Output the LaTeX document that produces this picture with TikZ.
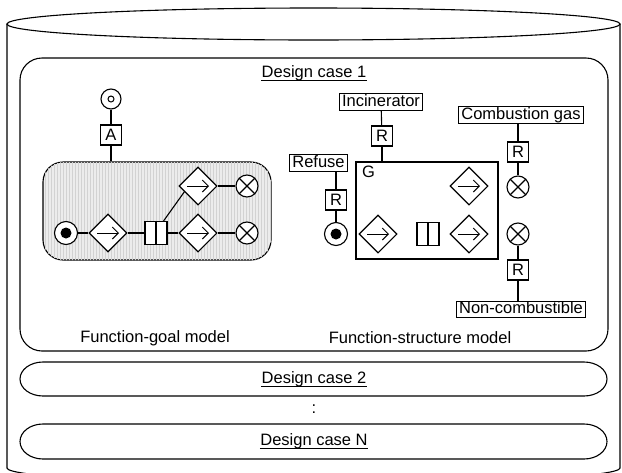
\documentclass[tikz,border=0pt]{standalone}
\usepackage{fontspec}
\setmainfont{Liberation Sans}
\usetikzlibrary{shapes.geometric,arrows.meta,calc,patterns}
\begin{document}
\begin{tikzpicture}[x=1pt,y=-1pt,line width=1.1pt,
  txt/.style={font=\fontsize{16.5}{19}\selectfont},
  lbl/.style={draw,fill=white,txt,inner xsep=2.5pt,inner ysep=0.5pt,text height=12pt,text depth=3.5pt},
  rbox/.style={draw,fill=white,txt,minimum width=21pt,minimum height=20pt,inner sep=0pt},
  fn/.style={diamond,draw,fill=white,minimum width=38pt,minimum height=38pt,inner sep=0pt},
  outc/.style={circle,draw,fill=white,minimum size=22pt,inner sep=0pt,
    path picture={\draw[line width=1.1pt] (path picture bounding box.south west)--(path picture bounding box.north east) (path picture bounding box.north west)--(path picture bounding box.south east);}},
  startc/.style={circle,draw,fill=white,minimum size=23pt,inner sep=0pt,
    path picture={\fill[black] (path picture bounding box.center) circle[radius=5.5pt];}},
  goalc/.style={circle,draw,fill=white,minimum size=20pt,inner sep=0pt,
    path picture={\draw[line width=1pt] (path picture bounding box.center) circle[radius=3pt];}},
  splitbox/.style={draw,fill=white,minimum width=22pt,minimum height=23pt,inner sep=0pt,
    path picture={\draw (path picture bounding box.north)--(path picture bounding box.south);}},
  arr/.style={-{Straight Barb[length=6pt,width=12pt]},line width=1pt},
  ulbl/.style={txt,inner sep=0pt}
]
\useasboundingbox (0,0) rectangle (622,472);
\clip (0,0) rectangle (622,472);

% cylinder
\draw (7,24) -- (7,468) arc[start angle=180,end angle=0,x radius=306.5,y radius=16] -- (620,24);
\draw (313.5,24) ellipse[x radius=306.5,y radius=16];

% design case 1
\node[draw,rounded corners=22pt,minimum width=588pt,minimum height=293pt,inner sep=0pt] (dc1) at (314,204.5) {};
\node[ulbl] (t1) at (314,73) {Design case 1};

% pills
\draw (43,362) -- (584,362) arc[start angle=-90,end angle=90,x radius=23,y radius=17] -- (43,396) arc[start angle=90,end angle=270,x radius=23,y radius=17] -- cycle;
\node[ulbl] (t2) at (314,379) {Design case 2};
\node[txt] (dots) at (314,409) {:};
\draw (43,424) -- (584,424) arc[start angle=-90,end angle=90,x radius=23,y radius=17.5] -- (43,459) arc[start angle=90,end angle=270,x radius=23,y radius=17.5] -- cycle;
\node[ulbl] (tN) at (314,441.5) {Design case N};
\foreach \t in {t1,t2,tN}
  \draw[line width=1.3pt] ($(\t.base west)+(0,3)$) -- ($(\t.base east)+(0,3)$);

% function-goal model
\node[draw,rounded corners=20pt,minimum width=228pt,minimum height=98pt,inner sep=0pt,fill=gray!15,
  postaction={pattern=vertical lines,pattern color=gray!35}] (fg) at (157,211) {};
\node[goalc] (goal) at (111,99) {};
\node[rbox] (A) at (111,135) {A};
\node[startc] (s1) at (66,233) {};
\node[fn] (d1) at (108,233) {};
\node[splitbox] (sp1) at (156,233) {};
\node[fn] (d2) at (198,186) {};
\node[fn] (d3) at (198,233) {};
\node[outc] (x1) at (247,186) {};
\node[outc] (x2) at (247,233) {};
\draw (goal) -- (A);
\draw (A) -- (A |- fg.north);
\draw (s1) -- (d1);
\draw (d1) -- (sp1);
\draw (sp1) -- (d3);
\draw (d2) -- (x1);
\draw (d3) -- (x2);
\draw ([xshift=-4pt]sp1.north east) -- ($(d2.west)!0.3!(d2.south)$);
\node[txt] (fgl) at (155,338) {Function-goal model};

% function-structure model
\node[draw,minimum width=142pt,minimum height=97pt,inner sep=0pt] (G) at (427,210.5) {};
\node[txt,anchor=north west,inner sep=0pt] (Gl) at ([xshift=6pt,yshift=-4pt]G.north west) {G};
\node[lbl] (inc) at (381,102) {Incinerator};
\node[rbox] (R1) at (382,136) {R};
\node[lbl] (ref) at (318.5,163) {Refuse};
\node[rbox] (R2) at (336,200) {R};
\node[startc] (s2) at (336,234) {};
\node[fn] (d4) at (378,234) {};
\node[splitbox] (sp2) at (428,234) {};
\node[fn] (d5) at (469,234) {};
\node[fn] (d6) at (469,186) {};
\node[lbl] (cg) at (521,115) {Combustion gas};
\node[rbox] (R3) at (518,152) {R};
\node[outc] (x3) at (518,187) {};
\node[outc] (x4) at (518,234) {};
\node[rbox] (R4) at (518,270) {R};
\node[lbl] (nc) at (521,309.5) {Non-combustible};
\draw (inc) -- (R1);
\draw (R1) -- (R1 |- G.north);
\draw (R2 |- ref.south) -- (R2);
\draw (R2) -- (s2);
\draw (R3 |- cg.south) -- (R3);
\draw (R3) -- (x3);
\draw (x4) -- (R4);
\draw (R4) -- (R4 |- nc.north);
\node[txt] (fsl) at (420,338) {Function-structure model};

\foreach \d in {d1,d2,d3,d4,d5,d6}
  \draw[arr] ([xshift=-11pt]\d.center) -- ([xshift=11pt]\d.center);
\end{tikzpicture}
\end{document}
